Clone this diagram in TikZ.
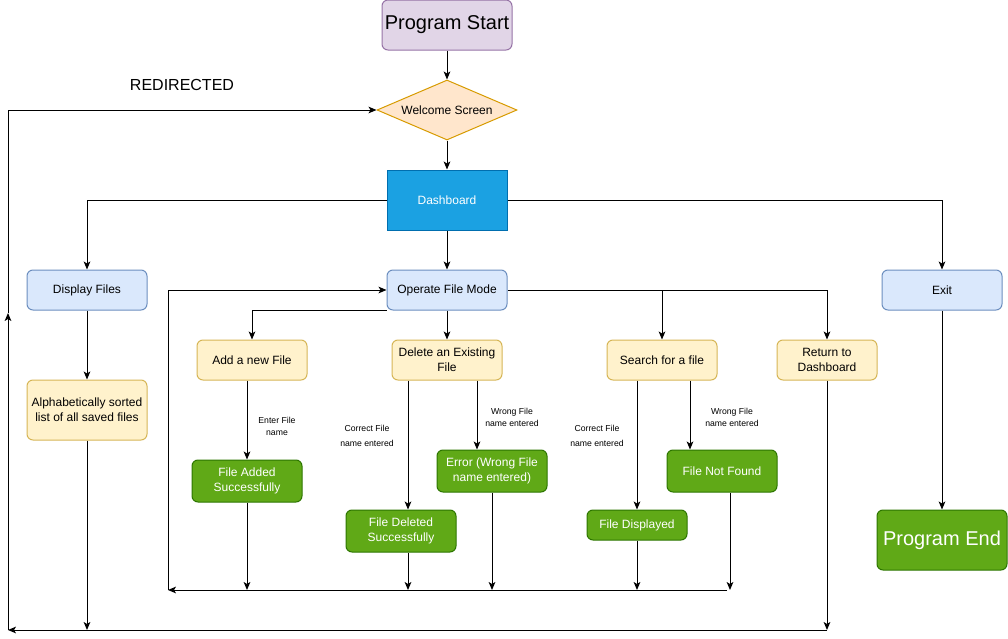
\documentclass[tikz,border=0pt]{standalone}
\usepackage{fontspec}
\setmainfont{Liberation Sans}
\usetikzlibrary{shapes.geometric,arrows.meta}

\definecolor{startfill}{HTML}{E1D5E7}
\definecolor{startline}{HTML}{9673A6}
\definecolor{welfill}{HTML}{FFE6CC}
\definecolor{welline}{HTML}{D79B00}
\definecolor{dashfill}{HTML}{1BA1E2}
\definecolor{dashline}{HTML}{006EAF}
\definecolor{modefill}{HTML}{DAE8FC}
\definecolor{modeline}{HTML}{6C8EBF}
\definecolor{taskfill}{HTML}{FFF2CC}
\definecolor{taskline}{HTML}{D6B656}
\definecolor{donefill}{HTML}{60A917}
\definecolor{doneline}{HTML}{2D7600}

\begin{document}
\begin{tikzpicture}[x=0.75pt, y=-0.75pt, line width=0.75pt,
  every node/.style={font=\fontsize{9}{11}\selectfont, align=center, inner sep=2pt},
  modebox/.style={draw=modeline, fill=modefill, rounded corners=4.5pt, minimum width=90pt, minimum height=30pt},
  taskbox/.style={draw=taskline, fill=taskfill, rounded corners=4.5pt, minimum width=82.5pt, minimum height=30pt},
  donebox/.style={draw=doneline, fill=donefill, text=white, rounded corners=4.5pt, minimum width=82.5pt, minimum height=31.5pt},
  edgelabel/.style={font=\fontsize{6.5}{11}\selectfont},
  flow/.style={-{Stealth[length=6pt, width=5pt, inset=1.5pt]}}]
  \useasboundingbox (0,0) rectangle (1008,639);

  % Top of the flow
  \node[draw=startline, fill=startfill, rounded corners=4.5pt, minimum width=97.5pt, minimum height=37.5pt,
    font=\fontsize{15}{18}\selectfont] (start) at (447,25) {Program Start};
  \node[diamond, draw=welline, fill=welfill, minimum width=105pt, minimum height=45pt, aspect=2.33, inner sep=0pt]
    (welcome) at (447,110) {Welcome Screen};
  \node[draw=dashline, fill=dashfill, text=white, minimum width=90pt, minimum height=45pt] (dash) at (447,200) {Dashboard};
  \node[font=\fontsize{12}{14}\selectfont] (redir) at (182,85) {REDIRECTED};

  % Dashboard choices
  \node[modebox] (display) at (87,290) {Display Files};
  \node[modebox] (operate) at (447,290) {Operate File Mode};
  \node[modebox] (exit) at (942,290) {Exit};
  \node[taskbox, minimum width=90pt, minimum height=45pt] (sorted) at (87,410) {Alphabetically sorted\\list of all saved files};

  % File operations
  \node[taskbox] (add) at (252,360) {Add a new File};
  \node[taskbox] (delete) at (447,360) {Delete an Existing\\File};
  \node[taskbox] (search) at (662,360) {Search for a file};
  \node[taskbox, minimum width=75pt] (back) at (827,360) {Return to\\Dashboard};

  % Results
  \node[donebox] (added) at (247,481) {File Added\\Successfully};
  \node[donebox] (deleted) at (401,531) {File Deleted\\Successfully};
  \node[donebox] (error) at (492,471) {Error (Wrong File\\name entered)};
  \node[donebox, minimum width=75pt, minimum height=22.5pt] (shown) at (637,525) {File Displayed};
  \node[donebox] (notfound) at (722,471) {File Not Found};
  \node[donebox, minimum width=97.5pt, minimum height=45pt, font=\fontsize{15}{18}\selectfont] (stop) at (942,540) {Program End};

  % Edge labels
  \node[edgelabel, font=\fontsize{6.5}{9}\selectfont] (lbladd) at (277,426) {Enter File\\name};
  \node[edgelabel] (lbldelok) at (367,436) {Correct File\\name entered};
  \node[edgelabel, font=\fontsize{6.5}{9}\selectfont] (lbldelbad) at (512,417) {Wrong File\\name entered};
  \node[edgelabel] (lblfindok) at (597,436) {Correct File\\name entered};
  \node[edgelabel, font=\fontsize{6.5}{9}\selectfont] (lblfindbad) at (732,417) {Wrong File\\name entered};

  % Return lines
  \coordinate (innerleft) at (168,590);
  \coordinate (innerright) at (727,590);
  \coordinate (outerleft) at (8,630);
  \coordinate (outerright) at (827,630);
  \coordinate (outermid) at (8,313);

  % Main column
  \draw[flow] (start) -- (welcome);
  \draw[flow] (welcome) -- (dash);
  \draw[flow] (dash) -- (operate);
  \draw[flow] (dash.west) -| (display.north);
  \draw[flow] (dash.east) -| (exit.north);
  \draw[flow] (display) -- (sorted);
  \draw[flow] (sorted.south) -- (87,0 |- outerleft);
  \draw[flow] (exit) -- (stop);

  % Operate branches
  \draw[flow] (operate.south west) -| (add.north);
  \draw[flow] (operate) -- (delete);
  \draw[flow] (operate.east) -| (back.north);
  \draw[flow] (662,0 |- operate.east) -- (search.north);

  % Outcomes
  \draw[flow] (247,0 |- add.south) -- (added.north);
  \draw[flow] (408,0 |- delete.south) -- (408,0 |- deleted.north);
  \draw[flow] (477,0 |- delete.south) -- (477,0 |- error.north);
  \draw[flow] (637,0 |- search.south) -- (shown.north);
  \draw[flow] (690,0 |- search.south) -- (690,0 |- notfound.north);

  \draw[flow] (added.south) -- (247,0 |- innerleft);
  \draw[flow] (408,0 |- deleted.south) -- (408,0 |- innerleft);
  \draw[flow] (error.south) -- (492,0 |- innerleft);
  \draw[flow] (shown.south) -- (637,0 |- innerleft);
  \draw[flow] (730,0 |- notfound.south) -- (730,0 |- innerleft);

  % Loop back to operate mode
  \draw[flow] (innerright) -- (innerleft);
  \draw[flow] (innerleft) |- (operate.west);

  % Loop back to welcome screen
  \draw[flow] (back.south) -- (outerright);
  \draw[flow] (outerright) -- (outerleft);
  \draw[flow] (outerleft) -- (outermid);
  \draw[flow] (outermid) |- (welcome.west);
\end{tikzpicture}
\end{document}
